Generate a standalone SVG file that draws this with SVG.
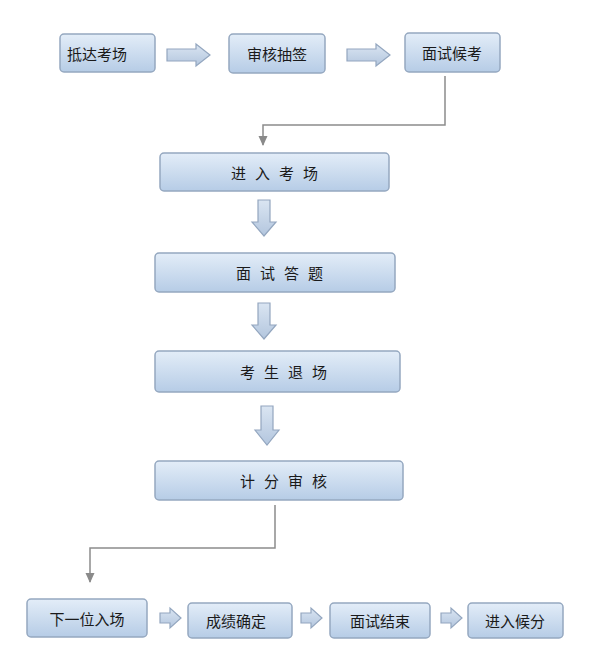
<svg xmlns="http://www.w3.org/2000/svg" width="597" height="665" viewBox="0 0 597 665">
<defs>
<linearGradient id="g" x1="0" y1="0" x2="0" y2="1">
<stop offset="0" stop-color="#e3edf8"/>
<stop offset="1" stop-color="#b6cce6"/>
</linearGradient>
<linearGradient id="ga" x1="0" y1="0" x2="0" y2="1">
<stop offset="0" stop-color="#dae5f2"/>
<stop offset="1" stop-color="#b3c6de"/>
</linearGradient>
<marker id="ah" markerWidth="10" markerHeight="10" refX="9" refY="5" orient="auto" markerUnits="userSpaceOnUse" viewBox="0 0 10 10">
<path d="M0,0.5 L10,5 L0,9.5 Z" fill="#8a8a8a"/>
</marker>
</defs>
<style>
.box{fill:url(#g);stroke:#95a8c0;stroke-width:1.5}
.t{font-family:"Noto Sans CJK SC","Noto Sans",sans-serif;font-size:15px;fill:#1a1a1a;text-anchor:middle;dominant-baseline:central}
.s{letter-spacing:9px}
.ba{fill:url(#ga);stroke:#93a6bf;stroke-width:1.2}
.ln{fill:none;stroke:#8c8c8c;stroke-width:1.5}
</style>
<rect width="597" height="665" fill="#ffffff"/>
<g id="n1"><rect class="box" x="60" y="34" width="95" height="38" rx="4"/><text class="t" x="97" y="53">抵达考场</text></g>
<g id="n2"><rect class="box" x="229" y="34" width="96" height="39" rx="4"/><text class="t" x="277" y="53">审核抽签</text></g>
<g id="n3"><rect class="box" x="405" y="33" width="95" height="39" rx="4"/><text class="t" x="452" y="52">面试候考</text></g>
<g id="n4"><rect class="box" x="160" y="153" width="229" height="38" rx="4"/><text class="t s" x="279" y="172">进入考场</text></g>
<g id="n5"><rect class="box" x="155" y="253" width="240" height="39" rx="4"/><text class="t s" x="284" y="272">面试答题</text></g>
<g id="n6"><rect class="box" x="155" y="351" width="245" height="41" rx="4"/><text class="t s" x="288" y="371">考生退场</text></g>
<g id="n7"><rect class="box" x="155" y="461" width="248" height="39" rx="4"/><text class="t s" x="288" y="480">计分审核</text></g>
<g id="n8"><rect class="box" x="27" y="599" width="120" height="38" rx="4"/><text class="t" x="87" y="618">下一位入场</text></g>
<g id="n9"><rect class="box" x="188" y="603" width="104" height="35" rx="4"/><text class="t" x="236" y="620">成绩确定</text></g>
<g id="n10"><rect class="box" x="330" y="603" width="100" height="35" rx="4"/><text class="t" x="380" y="620">面试结束</text></g>
<g id="n11"><rect class="box" x="468" y="603" width="95" height="35" rx="4"/><text class="t" x="515" y="620">进入候分</text></g>
<g id="connectors">
<path class="ba" d="M167,49 H196 V44 L210,55 L196,66 V61 H167 Z"/>
<path class="ba" d="M347,49 H376 V44 L390,55 L376,66 V61 H347 Z"/>
<path class="ba" d="M258,200 H270 V222 H276 L264,236 L252,222 H258 Z"/>
<path class="ba" d="M258,303 H270 V325 H276 L264,339 L252,325 H258 Z"/>
<path class="ba" d="M261,406 H273 V430 H279 L267,445 L255,430 H261 Z"/>
<path class="ba" d="M160,613 H170 V608 L181,618 L170,628 V623 H160 Z"/>
<path class="ba" d="M301,613 H311 V608 L322,618 L311,628 V623 H301 Z"/>
<path class="ba" d="M441,613 H451 V608 L462,618 L451,628 V623 H441 Z"/>
<path class="ln" d="M445,76 V125 H263 V145" marker-end="url(#ah)"/>
<path class="ln" d="M275,505 V548 H90 V582" marker-end="url(#ah)"/>
</g>
</svg>
